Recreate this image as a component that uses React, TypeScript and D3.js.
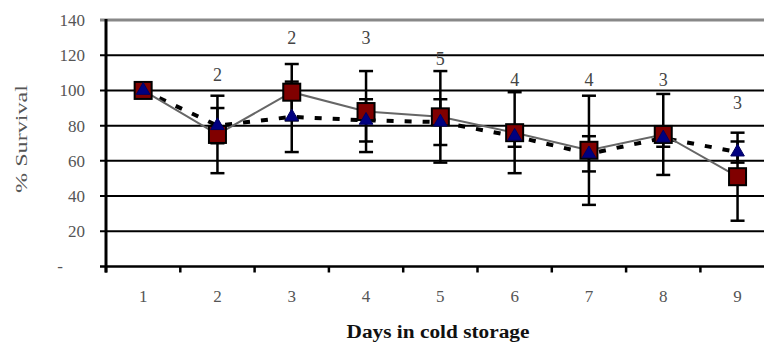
import React, { useEffect, useRef } from 'react';
import * as d3 from 'd3';

// days in cold storage
const days = ['1', '2', '3', '4', '5', '6', '7', '8', '9'];
// series drawn with dark red squares
const squareValues = [100, 75, 99, 88, 85, 76, 66, 75, 51];
const squareErrors = [0, 22, 16, 23, 26, 23, 31, 23, 25];
// series drawn with blue triangles
const triangleValues = [100, 80, 85, 83, 82, 74, 64, 73, 65];
const triangleErrors = [0, 10, 20, 12, 13, 6, 10, 5, 6];
// sample counts written above the points
const countLabels = ['', '2', '2', '3', '5', '4', '4', '3', '3'];
const countLabelY = [0, 109, 130, 130, 118, 106, 106, 106, 93];
const yTicks = [0, 20, 40, 60, 80, 100, 120, 140];

const App = () => {
  const svgRef = useRef<SVGSVGElement>(null);

  useEffect(() => {
    const svg = d3.select(svgRef.current);
    svg.selectAll('*').remove();

    const left = 106;
    const bandW = 74.3;
    const x = d3.scaleBand().domain(days).range([left, left + bandW * 9]).padding(0);
    const y = d3.scaleLinear().domain([0, 140]).range([266.5, 20]);
    const cx = (i: number) => (x(days[i]) as number) + x.bandwidth() / 2;
    const font = '"Liberation Serif", "Times New Roman", serif';

    // gridlines
    svg.append('g')
      .selectAll('line')
      .data(yTicks.filter(t => t > 0))
      .join('line')
      .attr('x1', left - 6)
      .attr('x2', 764)
      .attr('y1', d => y(d))
      .attr('y2', d => y(d))
      .attr('stroke', d => (d === 140 ? '#888' : '#000'))
      .attr('stroke-width', d => (d === 140 ? 3 : 2));

    // y tick labels
    svg.append('g')
      .selectAll('text')
      .data(yTicks)
      .join('text')
      .attr('x', d => (d === 0 ? 63 : 85))
      .attr('y', d => y(d))
      .attr('dy', '0.35em')
      .attr('text-anchor', 'end')
      .style('font-family', font)
      .style('font-size', '17px')
      .style('fill', '#555')
      .text(d => (d === 0 ? '-' : String(d)));

    // axes
    svg.append('line')
      .attr('x1', left).attr('x2', left)
      .attr('y1', y(140) - 1).attr('y2', y(0) + 6)
      .attr('stroke', '#000').attr('stroke-width', 3);
    svg.append('line')
      .attr('x1', left - 6).attr('x2', 776)
      .attr('y1', y(0)).attr('y2', y(0))
      .attr('stroke', '#000').attr('stroke-width', 2.5);
    svg.append('g')
      .selectAll('line')
      .data(days)
      .join('line')
      .attr('x1', d => x(d) as number)
      .attr('x2', d => x(d) as number)
      .attr('y1', y(0))
      .attr('y2', y(0) + 6)
      .attr('stroke', '#000')
      .attr('stroke-width', 2.5);

    // x tick labels
    svg.append('g')
      .selectAll('text')
      .data(days)
      .join('text')
      .attr('x', (d, i) => cx(i))
      .attr('y', 296)
      .attr('dy', '0.35em')
      .attr('text-anchor', 'middle')
      .style('font-family', font)
      .style('font-size', '17px')
      .style('fill', '#555')
      .text(d => d);

    // axis titles
    svg.append('text')
      .attr('x', 438)
      .attr('y', 332)
      .attr('dy', '0.35em')
      .attr('text-anchor', 'middle')
      .attr('textLength', 183)
      .attr('lengthAdjust', 'spacingAndGlyphs')
      .style('font-family', font)
      .style('font-size', '18px')
      .style('font-weight', 'bold')
      .style('fill', '#111')
      .text('Days in cold storage');
    svg.append('text')
      .attr('transform', 'translate(21, 139) rotate(-90)')
      .attr('dy', '0.35em')
      .attr('text-anchor', 'middle')
      .attr('textLength', 108)
      .attr('lengthAdjust', 'spacingAndGlyphs')
      .style('font-family', font)
      .style('font-size', '17px')
      .style('fill', '#555')
      .text('% Survival');

    // connecting lines
    const line = d3.line<number>().x((d, i) => cx(i)).y(d => y(d));
    svg.append('path')
      .datum(triangleValues)
      .attr('fill', 'none')
      .attr('stroke', '#000')
      .attr('stroke-width', 4)
      .attr('stroke-dasharray', '7 11')
      .attr('d', line);
    svg.append('path')
      .datum(squareValues)
      .attr('fill', 'none')
      .attr('stroke', '#666')
      .attr('stroke-width', 2)
      .attr('d', line);

    // error bars
    const errorBars = (vals: number[], errs: number[]) => {
      const g = svg.append('g').attr('stroke', '#000').attr('stroke-width', 2.5);
      vals.forEach((v, i) => {
        if (!errs[i]) return;
        const xc = cx(i);
        g.append('line').attr('x1', xc).attr('x2', xc).attr('y1', y(v + errs[i])).attr('y2', y(v - errs[i]));
        [v + errs[i], v - errs[i]].forEach(e => {
          g.append('line').attr('x1', xc - 7).attr('x2', xc + 7).attr('y1', y(e)).attr('y2', y(e));
        });
      });
    };
    errorBars(squareValues, squareErrors);
    errorBars(triangleValues, triangleErrors);

    // markers
    svg.append('g')
      .selectAll('rect')
      .data(squareValues)
      .join('rect')
      .attr('x', (d, i) => cx(i) - 8.5)
      .attr('y', d => y(d) - 8.5)
      .attr('width', 17)
      .attr('height', 17)
      .attr('fill', '#800000')
      .attr('stroke', '#000')
      .attr('stroke-width', 2);
    const tri = d3.symbol().type(d3.symbolTriangle).size(80);
    svg.append('g')
      .selectAll('path')
      .data(triangleValues)
      .join('path')
      .attr('transform', (d, i) => `translate(${cx(i)}, ${y(d)})`)
      .attr('d', tri)
      .attr('fill', '#000080')
      .attr('stroke', '#000060')
      .attr('stroke-width', 1);

    // count labels
    svg.append('g')
      .selectAll('text')
      .data(countLabels)
      .join('text')
      .attr('x', (d, i) => cx(i))
      .attr('y', (d, i) => y(countLabelY[i]))
      .attr('dy', '0.35em')
      .attr('text-anchor', 'middle')
      .style('font-family', font)
      .style('font-size', '18px')
      .style('fill', '#444')
      .text(d => d);
  }, []);

  return (
    <svg
      ref={svgRef}
      width={764}
      height={345}
      style={{ position: 'absolute', left: 0, top: 0, background: '#fff' }}
    />
  );
};

export default App;
